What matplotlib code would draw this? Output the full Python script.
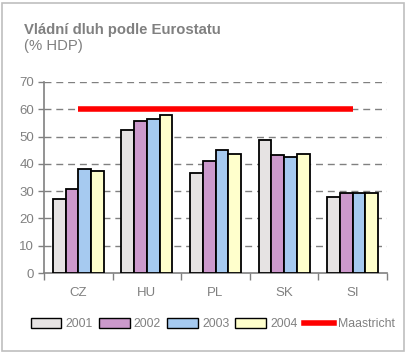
import matplotlib
matplotlib.use("Agg")
import matplotlib.pyplot as plt
import numpy as np
from matplotlib.patches import Rectangle, Patch
from matplotlib.lines import Line2D

plt.rcParams['font.family'] = ['Liberation Sans', 'DejaVu Sans']

categories = ["CZ", "HU", "PL", "SK", "SI"]
years = ["2001", "2002", "2003", "2004"]
v2001 = [27.0, 52.3, 36.5, 48.6, 27.7]
v2002 = [30.7, 55.6, 40.9, 43.1, 29.4]
v2003 = [38.2, 56.5, 45.2, 42.4, 29.2]
v2004 = [37.2, 57.8, 43.5, 43.5, 29.2]
maastricht = [60, 60, 60, 60, 60]
yticks = [0, 10, 20, 30, 40, 50, 60, 70]

series = [v2001, v2002, v2003, v2004]
colors = ["#E6E3E3", "#CC99CC", "#A6CAF0", "#FFFFCC"]
grey = "#808080"

W, H = 406, 352
fig = plt.figure(figsize=(W / 100, H / 100), dpi=100)

# outer frame
fig.patches.append(Rectangle((2.5 / W, 1 / H), (402 / W), (348.5 / H), transform=fig.transFigure,
                             fill=False, edgecolor="#BFBFBF", linewidth=1.2))

ax = fig.add_axes([44 / W, (H - 273) / H, (387 - 44) / W, (273 - 82) / H])
x = np.arange(len(categories))
bw = 0.186
for i, (vals, c) in enumerate(zip(series, colors)):
    ax.bar(x + (i - 1.5) * bw, vals, width=bw, color=c, edgecolor="black", linewidth=1.3,
           label=years[i], zorder=3)
ax.plot(x, maastricht, color="#FF0000", linewidth=4, solid_capstyle="butt", zorder=4, label="Maastricht")

ax.set_xlim(-0.5, len(categories) - 0.5)
ax.set_ylim(0, 70)
ax.set_yticks(yticks)
for yv in yticks[1:]:
    ax.axhline(yv, color=grey, linestyle=(0, (5, 3.5)), linewidth=1.0, zorder=1)
for s in ["top", "right"]:
    ax.spines[s].set_visible(False)
ax.spines["left"].set_color(grey)
ax.spines["bottom"].set_color(grey)
ax.spines["left"].set_linewidth(1.2)
ax.spines["bottom"].set_linewidth(1.2)
ax.tick_params(axis="y", colors=grey, labelsize=9.5, length=4, width=1.0, pad=3)
ax.set_xticks(x)
ax.set_xticklabels(categories)
ax.tick_params(axis="x", length=0, labelsize=9.5, colors=grey, pad=10)
ax.set_xticks(np.arange(-0.5, len(categories), 1.0), minor=True)
ax.tick_params(axis="x", which="minor", length=5, width=1.0, color=grey)
for lbl in ax.get_xticklabels() + ax.get_yticklabels():
    lbl.set_color(grey)

fig.text(24 / W, 1 - 30 / H, "Vládní dluh podle Eurostatu", fontsize=10.7, fontweight="bold",
         color=grey, va="center", ha="left")
fig.text(24 / W, 1 - 46 / H, "(% HDP)", fontsize=10.7, color=grey, va="center", ha="left")

handles = [Patch(facecolor=c, edgecolor="black", linewidth=1.0) for c in colors]
handles.append(Line2D([0], [0], color="#FF0000", linewidth=4))
leg = fig.legend(handles, years + ["Maastricht"], loc="center", bbox_to_anchor=(213 / W, 1 - 324 / H),
                 ncol=5, frameon=False, fontsize=8.8, handlelength=2.5, handleheight=0.9,
                 handletextpad=0.35, columnspacing=0.5, borderpad=0)
for t in leg.get_texts():
    t.set_color(grey)

fig.savefig("out.png", dpi=100)
